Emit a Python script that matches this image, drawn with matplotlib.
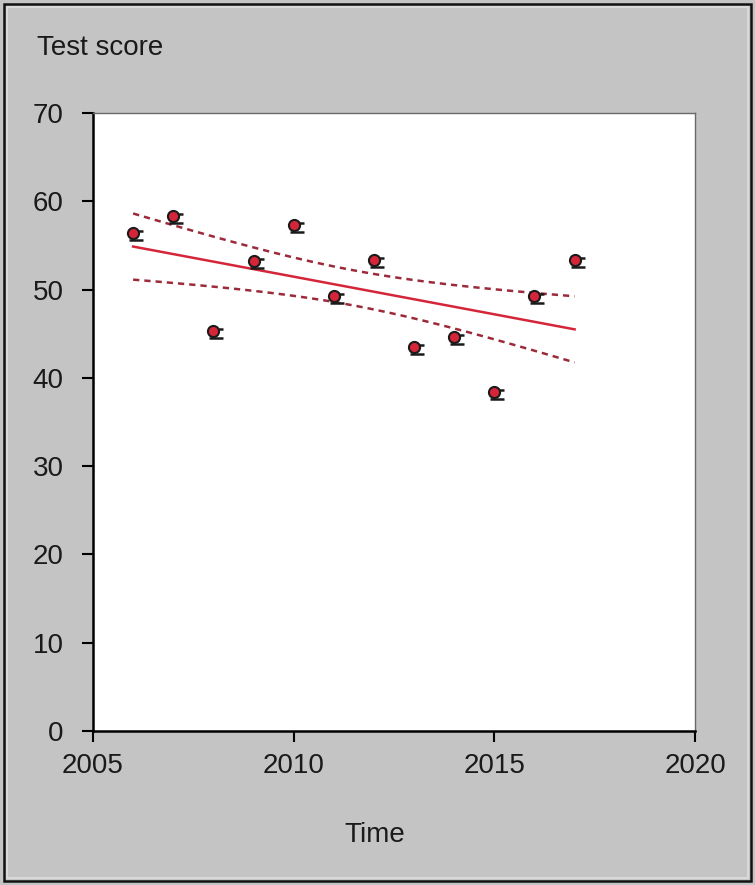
import numpy as np
import matplotlib
matplotlib.use("Agg")
import matplotlib.pyplot as plt
from matplotlib.path import Path
from matplotlib.patches import Rectangle

# data
years = [2006, 2007, 2008, 2009, 2010, 2011, 2012, 2013, 2014, 2015, 2016, 2017]
scores = [56.4, 58.3, 45.3, 53.2, 57.3, 49.3, 53.3, 43.5, 44.6, 38.4, 49.3, 53.3]
x_ticks = [2005, 2010, 2015, 2020]
y_ticks = [0, 10, 20, 30, 40, 50, 60, 70]
band_t = 1.22  # width factor of the dashed band

plt.rcParams['font.family'] = ['Liberation Sans', 'DejaVu Sans']
bg = '#c4c4c4'
fs = 20

fig = plt.figure(figsize=(7.55, 8.85), dpi=100, facecolor=bg)
ax = fig.add_axes([93 / 755, 1 - 731 / 885, 602 / 755, 618 / 885])
ax.set_facecolor('white')

x = np.array(years, dtype=float)
y = np.array(scores)

# least squares line and band
slope, icept = np.polyfit(x, y, 1)
xs = np.linspace(x.min(), x.max(), 100)
fit = icept + slope * xs
res = y - (icept + slope * x)
s = np.sqrt(np.sum(res ** 2) / (len(x) - 2))
sxx = np.sum((x - x.mean()) ** 2)
half = band_t * s * np.sqrt(1 / len(x) + (xs - x.mean()) ** 2 / sxx)

ax.plot(xs, fit, color='#d42638', lw=1.8, zorder=2)
ax.plot(xs, fit + half, color='#9c2a3a', lw=1.8, dashes=(2.5, 2), zorder=2)
ax.plot(xs, fit - half, color='#9c2a3a', lw=1.8, dashes=(2.5, 2), zorder=2)

# point glyph: black strokes + red dot
bars = Path([(-0.8, -1.4), (2.0, -1.4), (1.0, 0.4), (2.0, 0.4)],
            [Path.MOVETO, Path.LINETO, Path.MOVETO, Path.LINETO])
ax.plot(x, y, ls='none', marker=bars, ms=14, mec='#1a1a1a', mew=1.8, zorder=3)
ax.plot(x, y, ls='none', marker='o', ms=8, mfc='#d42638', mec='#1a1a1a', mew=1.5, zorder=4)

ax.set_xlim(2005, 2020)
ax.set_ylim(0, 70)
ax.set_xticks(x_ticks)
ax.set_yticks(y_ticks)
ax.set_xticklabels([str(t) for t in x_ticks])
ax.set_yticklabels([str(t) for t in y_ticks])
ax.tick_params(axis='both', direction='out', length=8, width=1.5, color='black',
               labelsize=fs, labelcolor='#1a1a1a')
ax.tick_params(axis='y', pad=13)
ax.tick_params(axis='x', pad=8)

for side in ['left', 'bottom']:
    ax.spines[side].set_linewidth(1.8)
    ax.spines[side].set_color('black')
for side in ['top', 'right']:
    ax.spines[side].set_linewidth(1.0)
    ax.spines[side].set_color('#6a6a6a')

fig.text(37 / 755, 1 - 55 / 885, 'Test score', fontsize=fs, color='#1a1a1a',
         ha='left', va='baseline')
fig.text(375 / 755, 1 - 842 / 885, 'Time', fontsize=fs, color='#1a1a1a',
         ha='center', va='baseline')

# outer frame
fig.patches.append(Rectangle((4 / 755, 4 / 885), 747 / 755, 877 / 885,
                             transform=fig.transFigure, fill=False,
                             edgecolor='#111111', lw=1.8))
fig.patches.append(Rectangle((7 / 755, 7 / 885), 741 / 755, 871 / 885,
                             transform=fig.transFigure, fill=False,
                             edgecolor='#dedede', lw=1.2))

fig.savefig('out.png', dpi=100, facecolor=bg)
